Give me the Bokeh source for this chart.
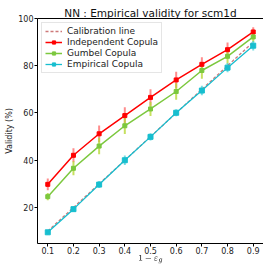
from bokeh.plotting import figure
from bokeh.models import Range1d, LinearAxis, Legend, LegendItem, FixedTicker
from bokeh.embed import file_html
from bokeh.resources import INLINE

x_vals = [0.1, 0.2, 0.3, 0.4, 0.5, 0.6, 0.7, 0.8, 0.9]
calib = [10, 20, 30, 40, 50, 60, 70, 80, 90]
indep = [29.8, 42.1, 51.2, 58.9, 66.6, 74.0, 80.6, 86.8, 94.3]
indep_err = [2.5, 3.0, 3.5, 3.5, 3.5, 3.5, 3.0, 3.0, 2.0]
gumbel = [24.6, 36.6, 46.0, 54.6, 61.7, 69.1, 78.0, 84.0, 92.2]
gumbel_err = [1.5, 3.0, 3.5, 3.5, 3.0, 3.5, 3.5, 3.0, 2.0]
empir = [9.5, 19.3, 29.7, 40.0, 49.9, 60.1, 69.5, 79.2, 88.5]
empir_err = [1.0, 1.0, 1.5, 2.0, 1.5, 1.5, 2.0, 2.0, 2.0]
y_ticks = [20, 40, 60, 80, 100]
x_ticks = x_vals

FONT = "DejaVu Sans"

p = figure(width=263, height=270, output_backend="svg", toolbar_location=None,
           x_range=Range1d(0.06, 0.94), y_range=Range1d(4.76, 100),
           min_border_left=37, min_border_right=0, min_border_top=18, min_border_bottom=27)
p.outline_line_color = None
p.xgrid.visible = False
p.ygrid.visible = False
p.background_fill_color = "white"

for ax in (p.xaxis[0], p.yaxis[0]):
    ax.major_tick_out = 3
    ax.major_tick_in = 0
    ax.minor_tick_line_color = None
    ax.axis_line_color = "black"
    ax.major_tick_line_color = "black"
    ax.major_label_text_font = FONT
    ax.major_label_text_font_size = "8px"
    ax.major_label_text_color = "#222222"
    ax.axis_label_text_font = FONT
    ax.axis_label_text_font_size = "8px"
    ax.axis_label_text_font_style = "normal"
    ax.axis_label_text_color = "#222222"
p.xaxis.ticker = FixedTicker(ticks=x_ticks)
p.yaxis.ticker = FixedTicker(ticks=y_ticks)
p.yaxis.major_label_standoff = 1
p.yaxis.axis_label_standoff = 1
p.yaxis.axis_label = "Validity (%)"
p.xaxis.major_label_standoff = 0
p.xaxis.axis_label_standoff = -2
p.xaxis.axis_label = r"$$1-\varepsilon_g$$"
p.xaxis.axis_label_text_font_size = "7px"

top_axis = LinearAxis(ticker=FixedTicker(ticks=[]), major_tick_out=0, major_tick_in=0,
                      minor_tick_out=0, minor_tick_in=0, major_label_standoff=0,
                      axis_line_color="black", axis_label="NN : Empirical validity for scm1d",
                      axis_label_standoff=0, axis_label_text_font=FONT,
                      axis_label_text_font_size="10.5px", axis_label_text_font_style="normal",
                      axis_label_text_color="#111111")
p.add_layout(top_axis, "above")

# error bars
lo = lambda v, e: [a - b for a, b in zip(v, e)]
hi = lambda v, e: [a + b for a, b in zip(v, e)]
p.segment(x_vals, lo(indep, indep_err), x_vals, hi(indep, indep_err), line_color="#ff0000", line_alpha=0.45, line_width=2)
p.segment(x_vals, lo(gumbel, gumbel_err), x_vals, hi(gumbel, gumbel_err), line_color="#b8d838", line_alpha=0.8, line_width=2)
p.segment(x_vals, lo(empir, empir_err), x_vals, hi(empir, empir_err), line_color="#20c8d0", line_alpha=0.6, line_width=2)

cal = p.line(x_vals, calib, line_color="#c05858", line_alpha=0.8, line_width=1.3, line_dash="3 2")
l1 = p.line(x_vals, indep, line_color="#ff0000", line_width=1.5)
s1 = p.scatter(x_vals, indep, marker="square", size=4, fill_color="#ff0000", line_color="#ff0000")
l2 = p.line(x_vals, gumbel, line_color="#7cc83e", line_width=1.5)
s2 = p.scatter(x_vals, gumbel, marker="square", size=4, fill_color="#7cc83e", line_color="#7cc83e")
l3 = p.line(x_vals, empir, line_color="#17becf", line_width=1.3)
s3 = p.scatter(x_vals, empir, marker="square", size=5, fill_color="#17becf", line_color="#17becf")

legend = Legend(items=[
    LegendItem(label="Calibration line", renderers=[cal]),
    LegendItem(label="Independent Copula", renderers=[l1, s1]),
    LegendItem(label="Gumbel Copula", renderers=[l2, s2]),
    LegendItem(label="Empirical Copula", renderers=[l3, s3]),
], location="top_left")
legend.label_text_font = FONT
legend.label_text_font_size = "9px"
legend.label_text_color = "#222222"
legend.label_height = 8
legend.glyph_height = 8
legend.glyph_width = 17
legend.spacing = 1
legend.padding = 3
legend.margin = 4
legend.label_standoff = 5
legend.border_line_color = "#cccccc"
legend.border_line_width = 1
legend.background_fill_alpha = 0.8
p.add_layout(legend)

open("out.html", "w").write(file_html(p, INLINE))
